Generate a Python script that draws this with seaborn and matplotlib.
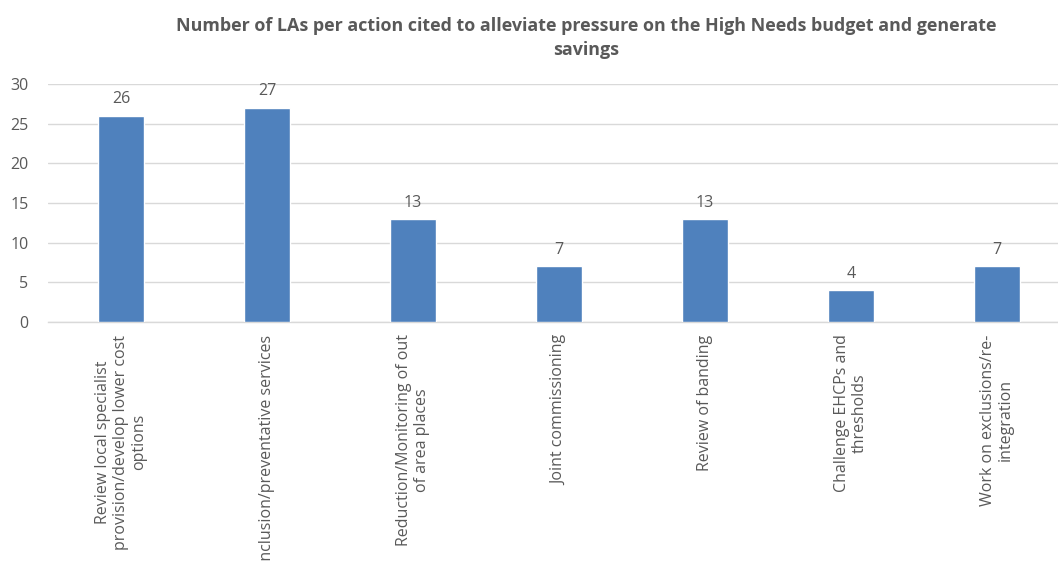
import matplotlib
matplotlib.use("Agg")
import matplotlib.pyplot as plt
import seaborn as sns
import pandas as pd

categories = [
    "Review local specialist\nprovision/develop lower cost\noptions",
    "Inclusion/preventative services",
    "Reduction/Monitoring of out\nof area places",
    "Joint commissioning",
    "Review of banding",
    "Challenge EHCPs and\nthresholds",
    "Work on exclusions/re-\nintegration",
]
counts = [26, 27, 13, 7, 13, 4, 7]
y_ticks = [0, 5, 10, 15, 20, 25, 30]
title = ("Number of LAs per action cited to alleviate pressure on the High Needs budget and generate\n"
         "savings")

sns.set_theme(style="white")
plt.rcParams["font.family"] = ["Open Sans", "DejaVu Sans"]

text_grey = "#595959"
grid_grey = "#D9D9D9"
bar_blue = "#4F81BD"
fs = 11.5

df = pd.DataFrame({"action": categories, "count": counts})

fig = plt.figure(figsize=(10.58, 5.63), dpi=100)
ax = fig.add_axes([48 / 1058, 1 - 322 / 563, 1010 / 1058, (322 - 84) / 563])

sns.barplot(data=df, x="action", y="count", color=bar_blue, width=0.315,
            saturation=1, ax=ax, zorder=3)

ax.set_ylim(0, 30)
ax.set_xlim(-0.5, 6.418)
ax.set_yticks(y_ticks)
ax.set_yticklabels([str(t) for t in y_ticks], color=text_grey, fontsize=fs)
ax.yaxis.grid(True, color=grid_grey, linewidth=1, zorder=0)
ax.set_axisbelow(True)
ax.tick_params(axis="y", length=0, pad=14)
ax.tick_params(axis="x", length=0, pad=9)
ax.set_xlabel("")
ax.set_ylabel("")
for s in ["top", "right", "left"]:
    ax.spines[s].set_visible(False)
ax.spines["bottom"].set_color(grid_grey)
ax.spines["bottom"].set_linewidth(1)

for lab in ax.get_xticklabels():
    lab.set_rotation(90)
    lab.set_ha("center")
    lab.set_va("top")
    lab.set_multialignment("center")
    lab.set_color(text_grey)
    lab.set_fontsize(fs)
    lab.set_linespacing(1.15)

for container in ax.containers:
    ax.bar_label(container, labels=[str(v) for v in counts], padding=6,
                 color=text_grey, fontsize=fs)

fig.text(586 / 1058, 1 - 38 / 563, title, ha="center", va="center",
         fontsize=12.9, fontweight="bold", color=text_grey, linespacing=1.4)

fig.savefig("out.png", dpi=100)
